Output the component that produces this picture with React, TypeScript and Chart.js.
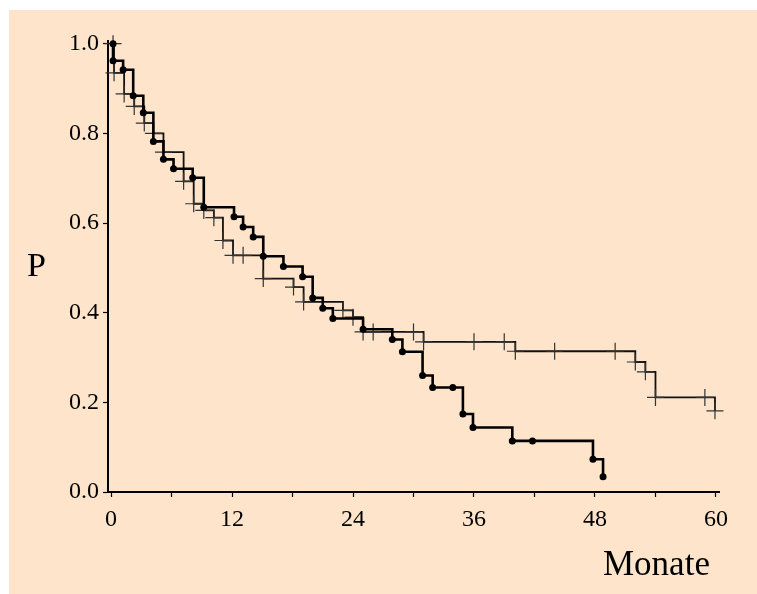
import React, { useEffect, useRef } from "react";
import { Chart, registerables } from "chart.js";

Chart.register(...registerables);

// Kaplan-Meier curve with dot markers (thick line)
const dotTimes = [0.2, 0.2, 1.2, 2.2, 3.2, 4.2, 5.2, 6.2, 8.1, 9.2, 12.2, 13.1, 14.1, 15.1, 17.1, 19.0, 20.0, 21.0, 22.0, 25.0, 27.9, 28.9, 30.9, 31.9, 33.9, 34.9, 35.9, 39.8, 41.8, 47.8, 48.8];
const dotSurv = [1.0, 0.962, 0.942, 0.884, 0.846, 0.782, 0.742, 0.721, 0.701, 0.635, 0.614, 0.591, 0.569, 0.526, 0.503, 0.48, 0.433, 0.41, 0.387, 0.363, 0.34, 0.313, 0.26, 0.233, 0.233, 0.174, 0.144, 0.114, 0.114, 0.073, 0.034];

// Kaplan-Meier curve with cross markers (thin line)
const crossTimes = [0.2, 0.3, 1.3, 2.3, 3.3, 4.2, 5.2, 7.2, 8.2, 9.2, 10.2, 11.1, 12.1, 13.1, 15.1, 18.1, 19.1, 23.0, 24.0, 25.0, 26.0, 30.0, 31.0, 36.0, 39.0, 40.1, 44.0, 50.0, 52.0, 53.0, 54.0, 58.9, 59.9];
const crossSurv = [1.0, 0.935, 0.888, 0.86, 0.823, 0.8, 0.758, 0.693, 0.643, 0.628, 0.612, 0.561, 0.528, 0.528, 0.476, 0.457, 0.424, 0.405, 0.39, 0.357, 0.357, 0.357, 0.335, 0.335, 0.335, 0.314, 0.314, 0.314, 0.29, 0.268, 0.211, 0.211, 0.181];

const xTickValues = [0, 6, 12, 18, 24, 30, 36, 42, 48, 54, 60];
const xLabelValues = [0, 12, 24, 36, 48, 60];
const yTickValues = [0, 0.2, 0.4, 0.6, 0.8, 1.0];

const yAxisTitle = "P";
const xAxisTitle = "Monate";

const SERIF = "'Liberation Serif', 'Times New Roman', serif";

export default function App() {
  const ref = useRef<HTMLCanvasElement | null>(null);

  useEffect(() => {
    if (!ref.current) return;
    const chart = new Chart(ref.current, {
      type: "line",
      data: {
        datasets: [
          {
            label: "Punkte",
            data: dotTimes.map((t, i) => ({ x: t, y: dotSurv[i] })),
            stepped: true,
            borderColor: "#000",
            borderWidth: 2.6,
            pointStyle: "circle",
            pointRadius: 3.5,
            pointBackgroundColor: "#000",
            pointBorderColor: "#000",
            pointBorderWidth: 0,
            fill: false,
            clip: false,
          },
          {
            label: "Kreuze",
            data: crossTimes.map((t, i) => ({ x: t, y: crossSurv[i] })),
            stepped: true,
            borderColor: "#111",
            borderWidth: 1.8,
            pointStyle: "cross",
            pointRadius: 8.5,
            pointBorderColor: "#333",
            pointBorderWidth: 1.2,
            pointBackgroundColor: "#333",
            fill: false,
            clip: false,
          },
        ],
      },
      options: {
        animation: false,
        responsive: false,
        maintainAspectRatio: false,
        events: [],
        layout: { padding: { left: 0, right: 38, top: 41, bottom: 0 } },
        plugins: { legend: { display: false }, tooltip: { enabled: false } },
        scales: {
          x: {
            type: "linear",
            min: -0.3,
            max: 60.3,
            afterBuildTicks: (axis: any) => {
              axis.ticks = xTickValues.map((v) => ({ value: v }));
            },
            afterFit: (axis: any) => {
              axis.height = 102;
            },
            grid: {
              drawOnChartArea: false,
              drawTicks: true,
              tickLength: 5,
              tickColor: "#000",
              tickWidth: 1.2,
            },
            border: { display: true, color: "#000", width: 2 },
            ticks: {
              color: "#000",
              font: { family: SERIF, size: 24 },
              padding: 8,
              maxRotation: 0,
              autoSkip: false,
              callback: (v: any) => (xLabelValues.includes(Number(v)) ? String(v) : ""),
            },
          },
          y: {
            type: "linear",
            min: 0,
            max: 1.006,
            afterBuildTicks: (axis: any) => {
              axis.ticks = yTickValues.map((v) => ({ value: v }));
            },
            afterFit: (axis: any) => {
              axis.width = 108;
            },
            grid: {
              drawOnChartArea: false,
              drawTicks: true,
              tickLength: 5,
              tickColor: "#000",
              tickWidth: 1.2,
            },
            border: { display: true, color: "#000", width: 2 },
            ticks: {
              color: "#000",
              font: { family: SERIF, size: 24 },
              padding: 4,
              autoSkip: false,
              callback: (v: any) => Number(v).toFixed(1),
            },
          },
        },
      },
    });
    return () => chart.destroy();
  }, []);

  return (
    <div style={{ position: "absolute", left: 0, top: 0, width: 757, height: 594, background: "#fff", overflow: "hidden" }}>
      <div style={{ position: "absolute", left: 9, top: 10, right: 0, bottom: 0, background: "#fde4ca" }} />
      <canvas ref={ref} width={757} height={594} style={{ position: "absolute", left: 0, top: 0, width: 757, height: 594 }} />
      <div style={{ position: "absolute", left: 27, top: 248, fontFamily: SERIF, fontSize: 34, lineHeight: "34px", color: "#000" }}>
        {yAxisTitle}
      </div>
      <div style={{ position: "absolute", left: 603, top: 546, fontFamily: SERIF, fontSize: 35, lineHeight: "35px", color: "#000" }}>
        {xAxisTitle}
      </div>
    </div>
  );
}
